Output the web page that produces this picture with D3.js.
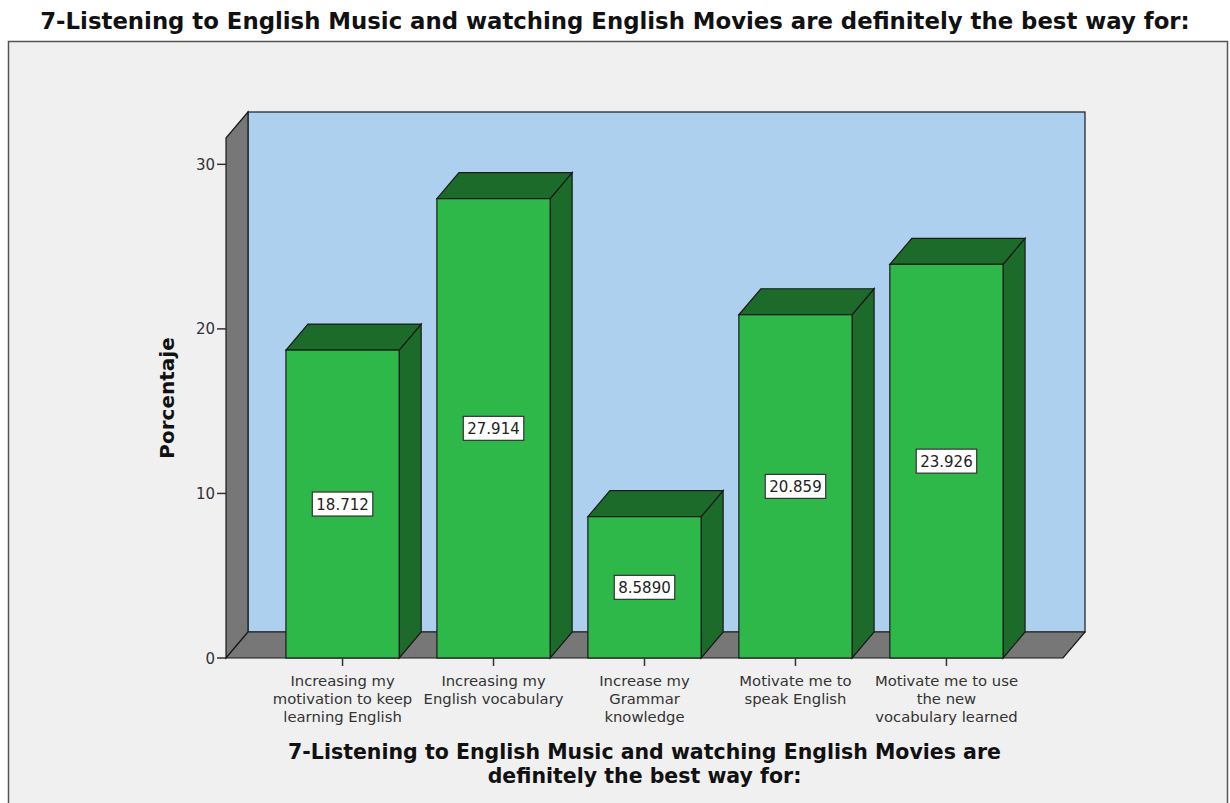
<!DOCTYPE html>
<html>
<head>
<meta charset="utf-8">
<script src="https://cdn.jsdelivr.net/npm/d3@7"></script>
<style>
  body { margin: 0; background: #fff; }
  text { font-family: "DejaVu Sans", Verdana, sans-serif; }
</style>
</head>
<body>
<div id="chart"></div>
<script>
// data
const categories = [
  ["Increasing my", "motivation to keep", "learning English"],
  ["Increasing my", "English vocabulary"],
  ["Increase my", "Grammar", "knowledge"],
  ["Motivate me to", "speak English"],
  ["Motivate me to use", "the new", "vocabulary learned"]
];
const values = [18.712, 27.914, 8.589, 20.859, 23.926];
const yTicks = [0, 10, 20, 30];
const title = "7-Listening to English Music and watching English Movies are definitely the best way for:";
const xTitle = ["7-Listening to English Music and watching English Movies are", "definitely the best way for:"];
const yTitle = "Porcentaje";

const W = 1230, H = 803;
const plot = { left: 226, right: 1063, bottom: 658, top: 138 };
const depth = { dx: 22, dy: 26 };
const col = {
  front: "#2eb84a", dark: "#1d6b2a", wall: "#aed0ef", grey: "#777777",
  frame: "#f0f0f0", line: "#1a1a1a"
};

const svg = d3.select("#chart").append("svg")
  .attr("width", W).attr("height", H);

// outer frame
svg.append("rect")
  .attr("x", 8.5).attr("y", 41.5)
  .attr("width", 1219).attr("height", 780)
  .attr("fill", col.frame).attr("stroke", "#555").attr("stroke-width", 1.5);

svg.append("text")
  .attr("x", 615).attr("y", 28.5)
  .attr("text-anchor", "middle")
  .attr("font-size", 22.8).attr("font-weight", "bold").attr("fill", "#111")
  .text(title);

const xscale = d3.scaleBand()
  .domain(d3.range(values.length))
  .range([plot.left, plot.right])
  .paddingInner(0.25)
  .paddingOuter(0.397);

const yscale = d3.scaleLinear()
  .domain([0, 31.6])
  .range([plot.bottom, plot.top]);

const g = svg.append("g");
const pts = p => p.map(d => d.join(",")).join(" ");
const dx = depth.dx, dy = depth.dy;
const y0 = yscale(0), yT = yscale(31.6);

// back wall
g.append("rect")
  .attr("x", plot.left + dx).attr("y", yT - dy)
  .attr("width", plot.right - plot.left).attr("height", y0 - yT)
  .attr("fill", col.wall).attr("stroke", col.line).attr("stroke-width", 1.2);

// left wall
g.append("polygon")
  .attr("points", pts([[plot.left, yT], [plot.left + dx, yT - dy], [plot.left + dx, y0 - dy], [plot.left, y0]]))
  .attr("fill", col.grey).attr("stroke", col.line).attr("stroke-width", 1.2);

// floor
g.append("polygon")
  .attr("points", pts([[plot.left, y0], [plot.left + dx, y0 - dy], [plot.right + dx, y0 - dy], [plot.right, y0]]))
  .attr("fill", col.grey).attr("stroke", col.line).attr("stroke-width", 1.2);

// y axis ticks
const yAxis = g.append("g").attr("class", "axis");
yAxis.selectAll("line").data(yTicks).enter().append("line")
  .attr("x1", plot.left - 9).attr("x2", plot.left)
  .attr("y1", d => yscale(d)).attr("y2", d => yscale(d))
  .attr("stroke", "#333").attr("stroke-width", 1.5);
yAxis.selectAll("text").data(yTicks).enter().append("text")
  .attr("x", plot.left - 11).attr("y", d => yscale(d) + 5.5)
  .attr("text-anchor", "end").attr("font-size", 15).attr("fill", "#333")
  .text(d => d);

svg.append("text")
  .attr("transform", `translate(174,${(plot.top + plot.bottom) / 2}) rotate(-90)`)
  .attr("text-anchor", "middle")
  .attr("font-size", 20).attr("font-weight", "bold").attr("fill", "#111")
  .text(yTitle);

// bars
const bars = g.selectAll("g.bar").data(values).enter().append("g").attr("class", "bar");
const bw = xscale.bandwidth();

bars.append("polygon")
  .attr("points", (d, i) => {
    const x = xscale(i) + bw, y = yscale(d);
    return pts([[x, y], [x + dx, y - dy], [x + dx, y0 - dy], [x, y0]]);
  })
  .attr("fill", col.dark).attr("stroke", col.line).attr("stroke-width", 1.2);

bars.append("polygon")
  .attr("points", (d, i) => {
    const x = xscale(i), y = yscale(d);
    return pts([[x, y], [x + dx, y - dy], [x + bw + dx, y - dy], [x + bw, y]]);
  })
  .attr("fill", col.dark).attr("stroke", col.line).attr("stroke-width", 1.2);

bars.append("rect")
  .attr("x", (d, i) => xscale(i)).attr("y", d => yscale(d))
  .attr("width", bw).attr("height", d => y0 - yscale(d))
  .attr("fill", col.front).attr("stroke", col.line).attr("stroke-width", 1.2);

// value labels
const fmt = d3.format(".5r");
bars.each(function (d, i) {
  const b = d3.select(this);
  const cx = xscale(i) + bw / 2, cy = (yscale(d) + y0) / 2;
  const t = b.append("text")
    .attr("x", cx).attr("y", cy + 5.5)
    .attr("text-anchor", "middle").attr("font-size", 15).attr("fill", "#222")
    .text(fmt(d));
  const tw = t.node().getComputedTextLength();
  b.insert("rect", "text")
    .attr("x", cx - tw / 2 - 4).attr("y", cy - 12)
    .attr("width", tw + 8).attr("height", 24)
    .attr("fill", "#fff").attr("stroke", "#333").attr("stroke-width", 1.2);
});

// x axis ticks and labels
const xAxis = g.append("g").attr("class", "axis");
xAxis.selectAll("line").data(categories).enter().append("line")
  .attr("x1", (d, i) => xscale(i) + bw / 2).attr("x2", (d, i) => xscale(i) + bw / 2)
  .attr("y1", y0).attr("y2", y0 + 8)
  .attr("stroke", "#333").attr("stroke-width", 1.5);
xAxis.selectAll("text").data(categories).enter().append("text")
  .attr("x", (d, i) => xscale(i) + bw / 2).attr("y", y0 + 28)
  .attr("text-anchor", "middle").attr("font-size", 14.8).attr("fill", "#333")
  .each(function (d) {
    d3.select(this).selectAll("tspan").data(d).enter().append("tspan")
      .attr("x", d3.select(this).attr("x"))
      .attr("dy", (s, k) => k ? 18 : 0)
      .text(s => s);
  });

svg.append("text")
  .attr("x", (plot.left + plot.right) / 2).attr("y", 759)
  .attr("text-anchor", "middle")
  .attr("font-size", 20.5).attr("font-weight", "bold").attr("fill", "#111")
  .selectAll("tspan").data(xTitle).enter().append("tspan")
    .attr("x", (plot.left + plot.right) / 2)
    .attr("dy", (s, k) => k ? 24 : 0)
    .text(s => s);
</script>
</body>
</html>
